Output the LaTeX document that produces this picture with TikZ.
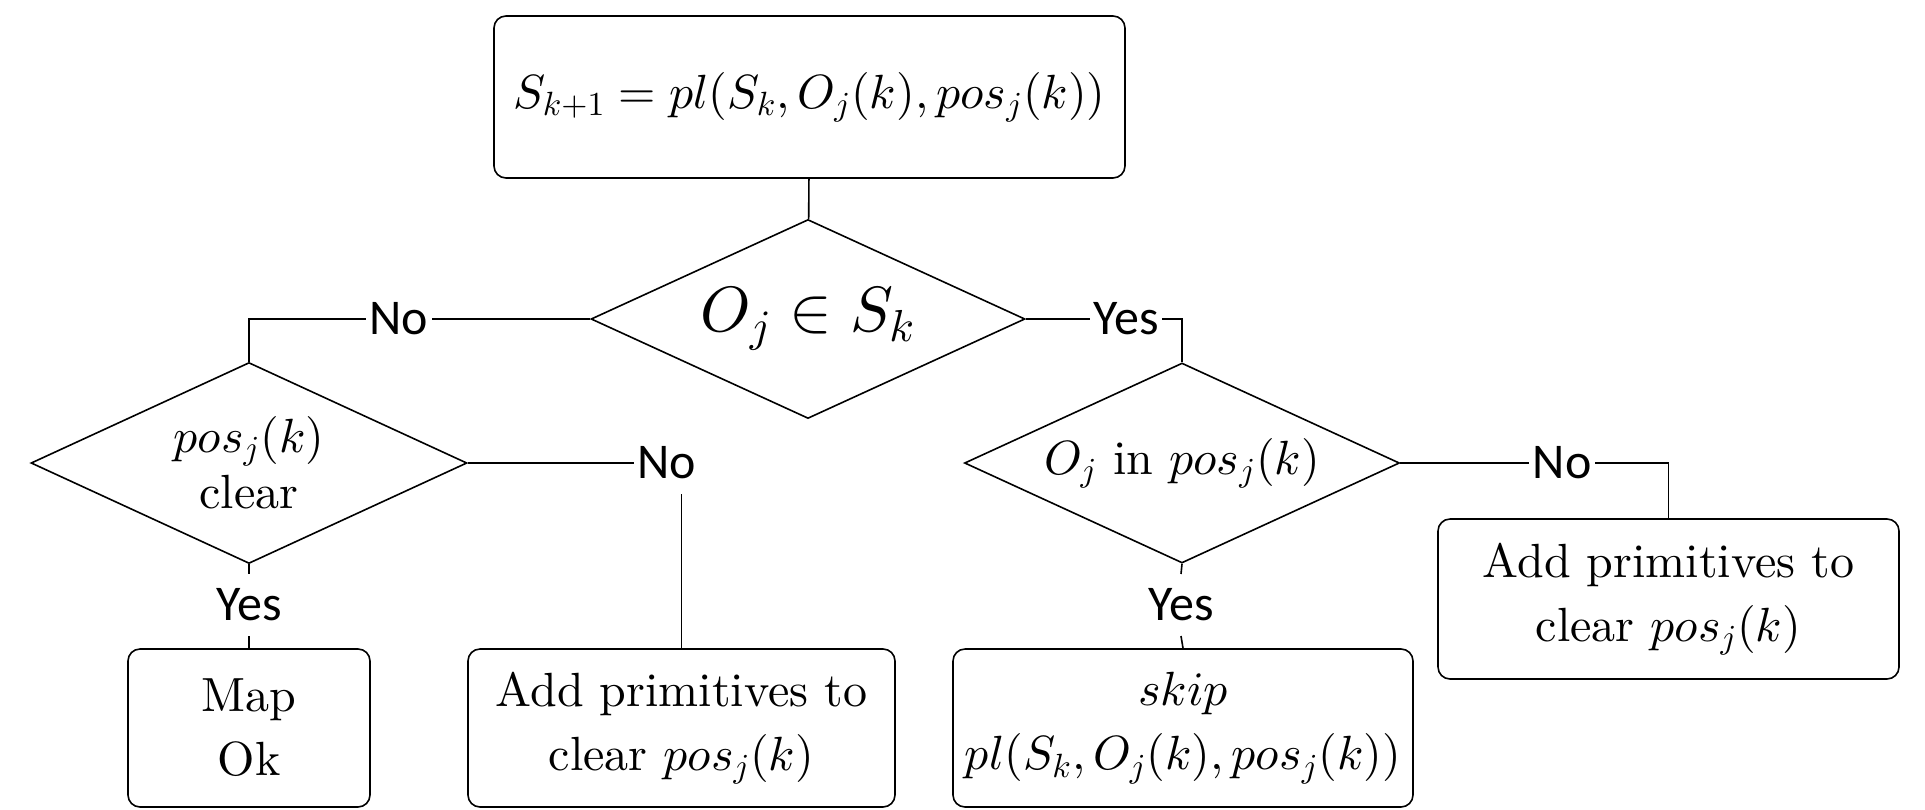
\RequirePackage{fix-cm}
\documentclass[tikz,border=0pt]{standalone}
\usepackage{fontspec}
\setmainfont{lmroman10-regular.otf}[ItalicFont=lmroman10-italic.otf, BoldFont=lmroman10-bold.otf]
\newfontfamily\labfont{Carlito}
\DeclareFontShape{OML}{cmm}{m}{it}{<->cmmi10}{}
\DeclareFontShape{OMS}{cmsy}{m}{n}{<->cmsy10}{}
\DeclareFontShape{OT1}{cmr}{m}{n}{<->cmr10}{}
\usetikzlibrary{shapes.geometric}
\begin{document}
\begin{tikzpicture}[x=0.5pt,y=-0.5pt,line width=0.8pt,
  box/.style={draw, rounded corners=6pt, align=center, font=\fontsize{24}{32}\selectfont, inner sep=0pt},
  dec/.style={draw, diamond, inner sep=0pt, shape aspect=2.17, align=center},
  lab/.style={font=\labfont\fontsize{25}{30}\selectfont, inner xsep=1.5pt, inner ysep=7pt}]
\path[use as bounding box, fill=white] (0,0) rectangle (1925,809);

\node[box, minimum width=315.5pt, minimum height=81pt] (top) at (809.5,97) {$S_{k+1} = pl(S_k, O_j(k), pos_j(k))$};
\node[dec, minimum width=217pt, minimum height=99.5pt, font=\fontsize{32}{38}\selectfont] (d1) at (808,319) {$O_j \in S_k$};
\node[dec, minimum width=218pt, minimum height=100.5pt, font=\fontsize{24}{28}\selectfont] (d2) at (249,463) {$pos_j(k)$\\clear};
\node[dec, minimum width=217.5pt, minimum height=100pt, font=\fontsize{24}{28}\selectfont] (d3) at (1182,463) {$O_j$ in $pos_j(k)$};

\node[box, minimum width=121pt, minimum height=79pt] (mapok) at (249,728) {Map\\Ok};
\node[box, minimum width=213.5pt, minimum height=79pt] (add1) at (681.5,728) {Add primitives to\\clear $pos_j(k)$};
\node[box, minimum width=230pt, minimum height=79pt] (skip) at (1183,728) {$skip$\\$pl(S_k, O_j(k), pos_j(k))$};
\node[box, minimum width=230.5pt, minimum height=80pt] (add2) at (1668.5,599) {Add primitives to\\clear $pos_j(k)$};

\node[lab] (noA) at (399,319) {No};
\node[lab] (yesA) at (1126,319) {Yes};
\node[lab] (noB) at (667,463) {No};
\node[lab] (yesB) at (249,605) {Yes};
\node[lab] (noC) at (1562,463) {No};
\node[lab] (yesC) at (1181,605) {Yes};

\draw (top) -- (d1);
\draw (d1.west) -- (noA.east);
\draw (noA.west) -| (d2.north);
\draw (d1.east) -- (yesA.west);
\draw (yesA.east) -| (d3.north);
\draw (d2.east) -- (noB.west);
\draw (add1.north) -- (add1.north |- noB.south);
\draw (d2.south) -- (yesB.north);
\draw (yesB.south) -- (mapok.north);
\draw (d3.east) -- (noC.west);
\draw (noC.east) -| (add2.north);
\draw (d3.south) -- (yesC.north);
\draw (yesC.south) -- (skip.north);
\end{tikzpicture}
\end{document}
